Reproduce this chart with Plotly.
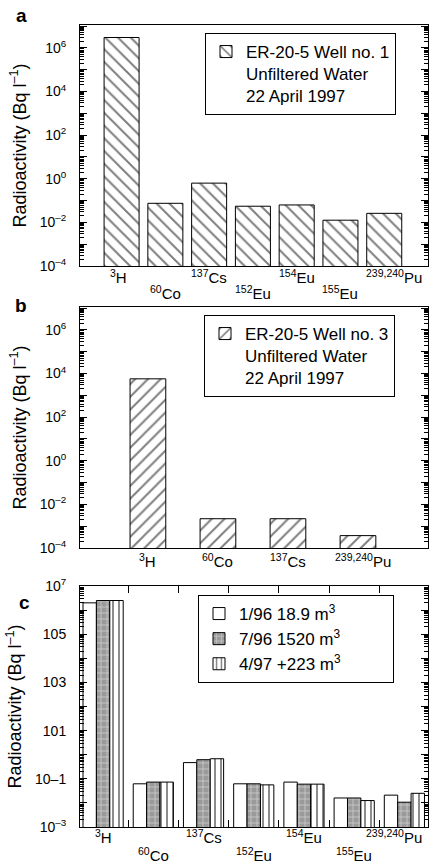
import plotly.graph_objects as go

# ---------------- data ----------------
iso_a = ["<sup>3</sup>H", "<sup>60</sup>Co", "<sup>137</sup>Cs", "<sup>152</sup>Eu",
         "<sup>154</sup>Eu", "<sup>155</sup>Eu", "<sup>239,240</sup>Pu"]
vals_a = [3.0e6, 0.075, 0.63, 0.055, 0.063, 0.0126, 0.026]

iso_b = ["<sup>3</sup>H", "<sup>60</sup>Co", "<sup>137</sup>Cs", "<sup>239,240</sup>Pu"]
vals_b = [5700, 0.0022, 0.0022, 0.00037]

iso_c = iso_a
c_jan96 = [2.0e6, 0.062, 0.47, 0.062, 0.073, 0.016, 0.021]
c_jul96 = [2.5e6, 0.073, 0.62, 0.062, 0.060, 0.016, 0.0107]
c_apr97 = [2.5e6, 0.073, 0.68, 0.056, 0.060, 0.0125, 0.025]

yt_ab = [1e-4, 1e-3, 1e-2, 1e-1, 1e0, 1e1, 1e2, 1e3, 1e4, 1e5, 1e6, 1e7]
yt_ab_text = ["10<sup>–4</sup>", "", "10<sup>–2</sup>", "", "10<sup>0</sup>", "", "10<sup>2</sup>", "",
              "10<sup>4</sup>", "", "10<sup>6</sup>", ""]
yt_c = [1e-3, 1e-2, 1e-1, 1e0, 1e1, 1e2, 1e3, 1e4, 1e5, 1e6, 1e7]
yt_c_text = ["10<sup>–3</sup>", "", "10–1", "", "101", "", "103", "", "105", "", "10<sup>7</sup>"]

legend_a = "ER-20-5 Well no. 1<br>Unfiltered Water<br>22 April 1997"
legend_b = "ER-20-5 Well no. 3<br>Unfiltered Water<br>22 April 1997"
legend_c = ["1/96 18.9 m<sup>3</sup>", "7/96 1520 m<sup>3</sup>", "4/97 +223 m<sup>3</sup>"]

FONT = "Liberation Sans, Arial, sans-serif"
W, H = 430, 867
PAD = "&nbsp;" * 11  # widens the legend box of panel c


def py(px):
    return 1 - px / H


fig = go.Figure()
line = dict(color="black", width=1)

xa = list(range(len(vals_a)))
fig.add_trace(go.Bar(x=xa, y=vals_a, width=0.8, name=legend_a, xaxis="x", yaxis="y",
                     marker=dict(color="white", line=line,
                                 pattern=dict(shape="\\", fgcolor="black", bgcolor="white",
                                              size=9, solidity=0.22)),
                     legend="legend"))

xb = list(range(len(vals_b)))
fig.add_trace(go.Bar(x=xb, y=vals_b, width=0.51, name=legend_b, xaxis="x2", yaxis="y2",
                     marker=dict(color="white", line=line,
                                 pattern=dict(shape="/", fgcolor="black", bgcolor="white",
                                              size=9, solidity=0.22)),
                     legend="legend2"))

xc = list(range(len(iso_c)))
bw = 0.8 / 3
fig.add_trace(go.Bar(x=xc, y=c_jan96, width=bw, offset=-0.4, name=legend_c[0] + PAD,
                     xaxis="x3", yaxis="y3",
                     marker=dict(color="white", line=line), legend="legend3"))
fig.add_trace(go.Bar(x=xc, y=c_jul96, width=bw, offset=-0.4 + bw, name=legend_c[1],
                     xaxis="x3", yaxis="y3",
                     marker=dict(color="#9a9a9a", line=line,
                                 pattern=dict(shape="+", fgcolor="white", bgcolor="#9a9a9a",
                                              size=6, solidity=0.25)),
                     legend="legend3"))
fig.add_trace(go.Bar(x=xc, y=c_apr97, width=bw, offset=-0.4 + 2 * bw, name=legend_c[2],
                     xaxis="x3", yaxis="y3",
                     marker=dict(color="white", line=line,
                                 pattern=dict(shape="|", fgcolor="black", bgcolor="white",
                                              size=6, solidity=0.3)),
                     legend="legend3"))

xdom = [80 / W, 428 / W]
title = dict(text="Radioactivity (Bq l<sup>–1</sup>)", font=dict(size=18, family=FONT, color="black"),
             standoff=8)


def yaxis(dom, rng, tv, tt):
    return dict(type="log", domain=dom, range=rng, tickmode="array", tickvals=tv, ticktext=tt,
                ticks="inside", ticklen=7, tickwidth=1, tickcolor="black", automargin=False,
                ticklabelstandoff=10,
                showline=True, linecolor="black", linewidth=1, mirror="ticks",
                showgrid=False, zeroline=False, title=title,
                tickfont=dict(size=14, family=FONT, color="black"),
                minor=dict(ticks="inside", ticklen=4, tickcolor="black", dtick="D1", showgrid=False))


def xaxis(dom, rng, anchor, ticks=False):
    d = dict(domain=dom, range=rng, anchor=anchor, showline=True, linecolor="black", linewidth=1,
             mirror=True, showgrid=False, zeroline=False, showticklabels=False, automargin=False)
    if ticks:
        d.update(tickmode="array", tickvals=[i + 0.5 for i in range(len(iso_c) - 1)],
                 ticks="inside", ticklen=7, tickcolor="black", mirror="ticks")
    else:
        d.update(ticks="")
    return d


def lab(x, y, xref, text, size=15, bold=False, xshift=0):
    return dict(x=x, y=y, xref=xref, yref="paper", text=("<b>%s</b>" % text) if bold else text,
                showarrow=False, xanchor="center", yanchor="middle", xshift=xshift,
                font=dict(size=size, family=FONT, color="black"))


ann = []
for i, t in enumerate(iso_a):
    ann.append(lab(i, py(276 if i % 2 == 0 else 293), "x", t,
                   xshift=10 if i == len(iso_a) - 1 else (-3 if i == 0 else 0)))
for i, t in enumerate(iso_b):
    ann.append(lab(i, py(560), "x2", t, xshift=5 if i == len(iso_b) - 1 else 0))
for i, t in enumerate(iso_c):
    ann.append(lab(i, py(836 if i % 2 == 0 else 854), "x3", t,
                   xshift=-10 if i == len(iso_c) - 1 else 0))
for t, yy, xx in [("a", 15, 21), ("b", 305, 21), ("c", 602, 24)]:
    ann.append(lab(xx / W, py(yy), "paper", t, size=19, bold=True))


def legend(x0, y0):
    return dict(x=x0 / W, y=py(y0), xanchor="left", yanchor="top", bgcolor="white",
                bordercolor="black", borderwidth=1, valign="top",
                font=dict(size=17, family=FONT, color="black"), tracegroupgap=0,
                itemwidth=30)


fig.update_layout(
    width=W, height=H, margin=dict(l=0, r=0, t=0, b=0, autoexpand=False),
    paper_bgcolor="white", plot_bgcolor="white", barmode="overlay",
    font=dict(family=FONT, color="black"),
    xaxis=xaxis(xdom, [-0.95, 7.0], "y"),
    yaxis=yaxis([py(266), py(25)], [-4, 7.05], yt_ab, yt_ab_text),
    xaxis2=xaxis(xdom, [-0.97, 4.0], "y2"),
    yaxis2=yaxis([py(548), py(307)], [-4, 7.05], yt_ab, yt_ab_text),
    xaxis3=xaxis(xdom, [-0.46, 6.47], "y3", ticks=True),
    yaxis3=yaxis([py(827), py(586)], [-3, 7], yt_c, yt_c_text),
    legend=legend(205, 33),
    legend2=legend(204, 315),
    legend3=legend(198, 595),
    annotations=ann,
    showlegend=True,
)

fig.write_html("out.html", config={"displayModeBar": False},
               post_script="document.body.style.margin='0';document.body.style.overflow='hidden';")
